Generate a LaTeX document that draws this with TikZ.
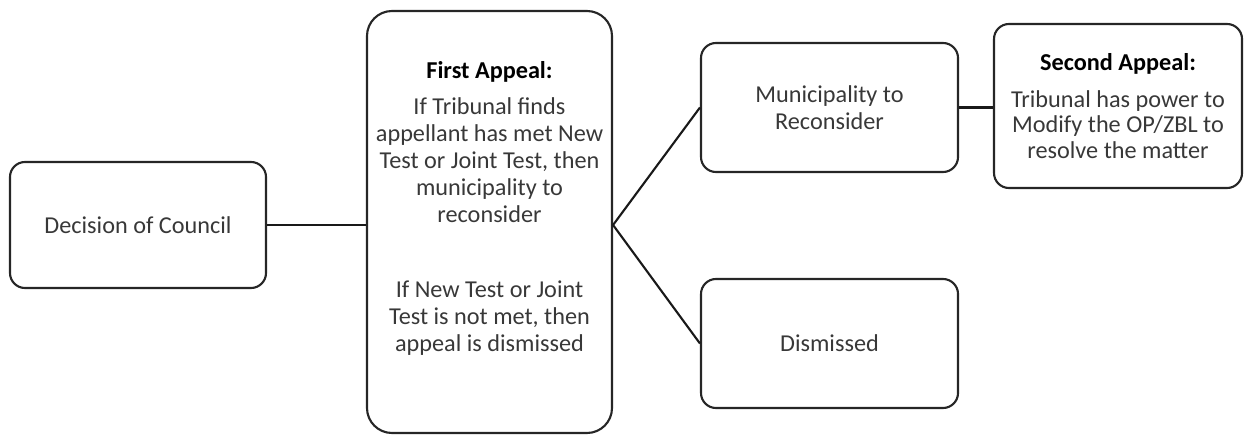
\documentclass[tikz,border=0pt]{standalone}
\usepackage{fontspec}
\setmainfont{Carlito}

\begin{document}
\begin{tikzpicture}[
    box/.style={draw=black!85, line width=1.2pt, rounded corners=0.3cm,
      align=center, inner sep=0pt, text=black!78,
      font=\fontsize{13.8}{15.4}\selectfont},
    link/.style={draw=black!90, line width=1.2pt}
  ]
  \useasboundingbox (0,0) rectangle (24.92,8.68);

  \node[box, minimum width=5.12cm, minimum height=2.52cm] (council) at (2.76,4.18) {Decision of Council};

  \node[box, rounded corners=0.5cm, minimum width=4.9cm, minimum height=8.44cm] (first) at (9.79,4.24)
    {\textcolor{black}{\bfseries First Appeal:}\\[0.18cm]
     If Tribunal finds\\ appellant has met New\\ Test or Joint Test, then\\ municipality to\\ reconsider\\[0.96cm]
     If New Test or Joint\\ Test is not met, then\\ appeal is dismissed\\[0.08cm]\mbox{}};

  \node[box, minimum width=5.14cm, minimum height=2.58cm] (mun) at (16.59,6.53) {Municipality to\\ Reconsider};
  \node[box, minimum width=5.14cm, minimum height=2.58cm] (dis) at (16.59,1.81) {Dismissed};

  \node[box, font=\fontsize{13.8}{14.5}\selectfont, minimum width=4.96cm, minimum height=3.28cm] (second) at (22.36,6.56)
    {\textcolor{black}{\bfseries Second Appeal:}\\[0.22cm]
     Tribunal has power to\\ Modify the OP/ZBL to\\ resolve the matter};

  % connectors
  \draw[link] (council.east) -- (council.east -| first.west);
  \coordinate (fork) at (council.east -| first.east);
  \draw[link] (mun.west) -- (fork) -- (dis.west);
  \draw[link] (mun.east) -- (mun.east -| second.west);
\end{tikzpicture}
\end{document}
